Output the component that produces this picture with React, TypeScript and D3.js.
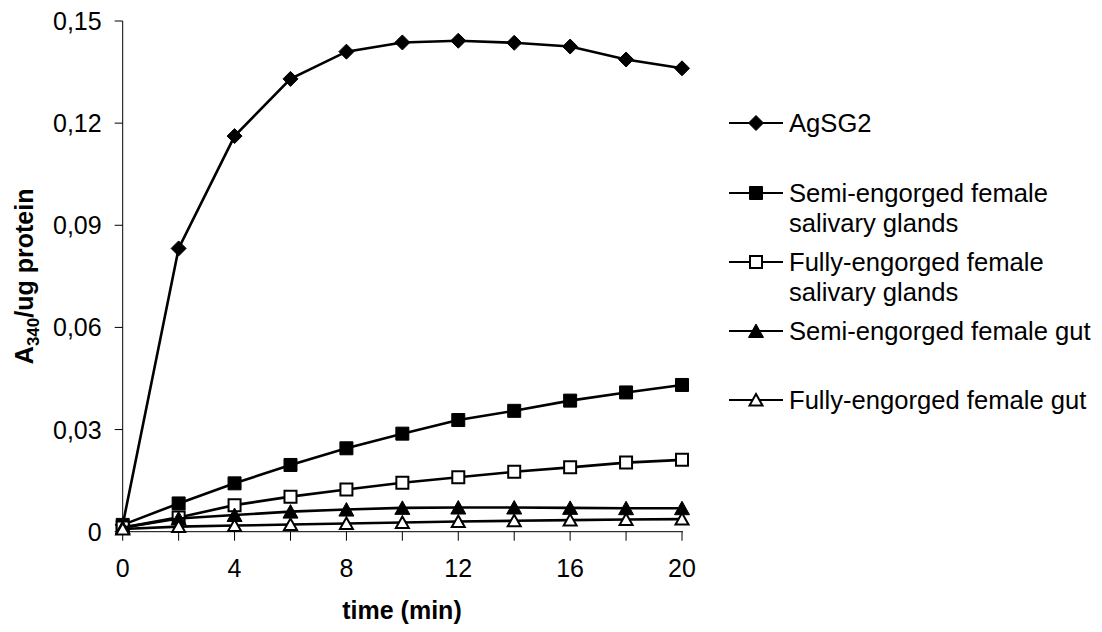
import React from "react";
import * as d3 from "d3";

// time points (min)
const times = [0, 2, 4, 6, 8, 10, 12, 14, 16, 18, 20];

// A340 / ug protein
const agSG2 = [0.002, 0.0832, 0.1162, 0.133, 0.141, 0.1437, 0.1442, 0.1436, 0.1425, 0.1387, 0.1361];
const semiSG = [0.002, 0.0083, 0.0142, 0.0196, 0.0245, 0.0288, 0.0328, 0.0355, 0.0385, 0.0409, 0.0431];
const fullySG = [0.0012, 0.0042, 0.0078, 0.0103, 0.0124, 0.0144, 0.016, 0.0176, 0.0189, 0.0203, 0.0211];
const semiGut = [0.0012, 0.0039, 0.0049, 0.0059, 0.0065, 0.007, 0.0071, 0.0071, 0.007, 0.0069, 0.0069];
const fullyGut = [0.0008, 0.0015, 0.0018, 0.0021, 0.0024, 0.0027, 0.003, 0.0032, 0.0034, 0.0036, 0.0037];

const xTicks = [0, 4, 8, 12, 16, 20];
const yTicks = [0, 0.03, 0.06, 0.09, 0.12, 0.15];

type Marker = "diamond" | "squareFilled" | "squareOpen" | "triFilled" | "triOpen";

const series: { name: string[]; values: number[]; marker: Marker }[] = [
  { name: ["AgSG2"], values: agSG2, marker: "diamond" },
  { name: ["Semi-engorged female", "salivary glands"], values: semiSG, marker: "squareFilled" },
  { name: ["Fully-engorged female", "salivary glands"], values: fullySG, marker: "squareOpen" },
  { name: ["Semi-engorged female gut"], values: semiGut, marker: "triFilled" },
  { name: ["Fully-engorged female gut"], values: fullyGut, marker: "triOpen" },
];

const legendRows = [123, 193, 262, 331, 400];

const width = 1102;
const height = 632;
const left = 122.7;
const right = 682;
const top = 21;
const bottom = 531.7;
const font = "Arial, 'Liberation Sans', sans-serif";

// marker shape centred at 0,0
const markerPath = (m: Marker) => {
  if (m === "diamond") return "M0,-7.5L7.5,0L0,7.5L-7.5,0Z";
  if (m === "squareFilled") return "M-6.5,-6.5H6.5V6.5H-6.5Z";
  if (m === "squareOpen") return "M-6,-6H6V6H-6Z";
  if (m === "triFilled") return "M0,-7L7.5,6.5L-7.5,6.5Z";
  return "M0,-6L6.5,5.5L-6.5,5.5Z";
};

const MarkerShape = ({ m, x, y }: { m: Marker; x: number; y: number }) => {
  const open = m === "squareOpen" || m === "triOpen";
  return (
    <path
      d={markerPath(m)}
      transform={`translate(${x},${y})`}
      fill={open ? "#fff" : "#000"}
      stroke="#000"
      strokeWidth={open ? 2 : 1}
    />
  );
};

export default function App() {
  const x = d3.scaleLinear().domain([0, 20]).range([left, right]);
  const y = d3.scaleLinear().domain([0, 0.15]).range([bottom, top]);
  const fmt = (v: number) => (v === 0 ? "0" : d3.format(".2f")(v).replace(".", ","));

  const line = d3
    .line<number>()
    .x((_, i) => x(times[i]))
    .y((v) => y(v));

  return (
    <div style={{ position: "absolute", left: 0, top: 0 }}>
      <svg width={width} height={height} style={{ display: "block", background: "#fff" }} fontFamily={font}>
        {/* axes */}
        <line x1={left} x2={left} y1={top} y2={bottom} stroke="#000" strokeWidth={1} />
        <line x1={left} x2={right + 1} y1={bottom} y2={bottom} stroke="#000" strokeWidth={1} />
        {yTicks.map((t) => (
          <g key={t}>
            <line x1={left - 8} x2={left} y1={y(t)} y2={y(t)} stroke="#000" />
            <text x={left - 21} y={y(t)} dy="0.36em" textAnchor="end" fontSize={25}>
              {fmt(t)}
            </text>
          </g>
        ))}
        {times.map((t) => (
          <line key={t} x1={x(t)} x2={x(t)} y1={bottom} y2={bottom + 9} stroke="#000" />
        ))}
        {xTicks.map((t) => (
          <text key={t} x={x(t)} y={577} textAnchor="middle" fontSize={25}>
            {t}
          </text>
        ))}
        <text x={402} y={619} textAnchor="middle" fontSize={25} fontWeight="bold">
          time (min)
        </text>
        <text transform={`translate(33,${(top + bottom) / 2}) rotate(-90)`} textAnchor="middle" fontSize={25} fontWeight="bold">
          A<tspan fontSize={17} dy={6}>340</tspan>
          <tspan dy={-6}>/ug protein</tspan>
        </text>

        {/* series */}
        {series.map((s) => (
          <g key={s.marker}>
            <path d={line(s.values) || ""} fill="none" stroke="#000" strokeWidth={2.6} />
            {s.values.map((v, i) => (
              <MarkerShape key={i} m={s.marker} x={x(times[i])} y={y(v)} />
            ))}
          </g>
        ))}

        {/* legend */}
        {series.map((s, i) => (
          <g key={s.marker} transform={`translate(0,${legendRows[i]})`}>
            <line x1={729} x2={783} y1={0} y2={0} stroke="#000" strokeWidth={2} />
            <MarkerShape m={s.marker} x={756} y={0} />
            {s.name.map((n, j) => (
              <text key={j} x={789} y={j * 30} dy="0.36em" fontSize={25.6}>
                {n}
              </text>
            ))}
          </g>
        ))}
      </svg>
    </div>
  );
}
